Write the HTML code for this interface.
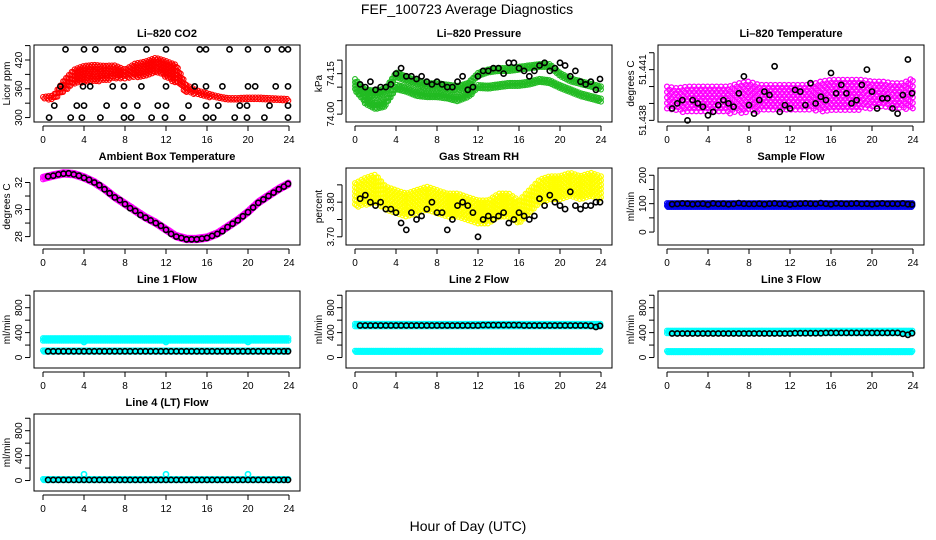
<!DOCTYPE html>
<html><head><meta charset="utf-8"><style>
html,body{margin:0;padding:0;background:#fff;}
svg{display:block;font-family:"Liberation Sans",sans-serif;}
</style></head><body>
<svg id="chart" width="936" height="540" viewBox="0 0 936 540" xmlns="http://www.w3.org/2000/svg">
<text x="467" y="14" font-size="14" text-anchor="middle">FEF_100723  Average Diagnostics</text>
<text x="468" y="531" font-size="14" text-anchor="middle">Hour of Day (UTC)</text>
</svg>
<script>
const xTicks = [0,4,8,12,16,20,24];
const blackHours = [0.5,1,1.5,2,2.5,3,3.5,4,4.5,5,5.5,6,6.5,7,7.5,8,8.5,9,9.5,10,10.5,11,11.5,12,12.5,13,13.5,14,14.5,15,15.5,16,16.5,17,17.5,18,18.5,19,19.5,20,20.5,21,21.5,22,22.5,23,23.5,23.9];

// CO2
const co2Center = [340,341,365,385,390,392,392,395,390,398,402,410,400,390,360,352,347,342,338,338,339,339,338,337,336];
const co2Spread = [3,5,12,15,18,18,16,14,10,15,15,15,18,20,8,5,4,3,3,3,3,3,3,3,3];
const co2BlackH = [2.2,4.0,5.1,7.3,7.8,10.1,12.0,15.3,15.9,18.2,20.0,21.9,23.3,23.9, 1.7,3.9,4.6,6.8,7.9,9.6,12.0,14.8,15.9,17.5,20.0,20.7,22.7,23.9, 1.1,3.3,4.0,6.2,7.9,9.2,11.2,12.0,14.2,15.9,17.1,19.2,19.9,22.1,23.9, 0.6,2.7,3.8,5.6,7.9,8.6,10.6,11.9,13.6,15.9,16.6,18.7,19.9,21.6,23.9];
const co2BlackV = [442,442,442,442,442,442,442,442,442,442,442,442,442,442, 365,365,365,365,365,365,365,365,365,365,365,365,365,365, 325,325,325,325,325,325,325,325,325,325,325,325,325,325,325, 300,300,300,300,300,300,300,300,300,300,300,300,300,300,300];

// Pressure (two bands)
const presLow = [74.095,74.05,74.03,74.04,74.10,74.09,74.075,74.07,74.07,74.065,74.055,74.07,74.10,74.10,74.105,74.11,74.11,74.115,74.125,74.12,74.10,74.085,74.07,74.06,74.05];
const presHigh = [74.12,74.08,74.075,74.085,74.145,74.13,74.115,74.105,74.105,74.10,74.095,74.105,74.145,74.16,74.165,74.165,74.17,74.175,74.18,74.18,74.145,74.125,74.115,74.105,74.095];
const presSpread = [0.01,0.012,0.012,0.012,0.01,0.01,0.01,0.01,0.01,0.01,0.01,0.01,0.008,0.006,0.006,0.006,0.006,0.006,0.006,0.006,0.008,0.008,0.008,0.008,0.008];
const presBlack = [74.11,74.10,74.12,74.09,74.10,74.10,74.11,74.15,74.17,74.14,74.14,74.13,74.14,74.12,74.11,74.12,74.11,74.10,74.10,74.12,74.14,74.09,74.10,74.14,74.16,74.16,74.17,74.17,74.15,74.19,74.19,74.17,74.16,74.14,74.16,74.18,74.19,74.16,74.17,74.19,74.18,74.14,74.16,74.12,74.11,74.12,74.09,74.13];

// Li-820 temperature
const tempCenter = [51.4393,51.4392,51.4392,51.4392,51.4392,51.4392,51.4392,51.4393,51.4394,51.4393,51.4393,51.4393,51.4393,51.4393,51.4393,51.4394,51.4395,51.4395,51.4395,51.4395,51.4395,51.4395,51.4394,51.4394,51.4396];
const tempSpread = [0.0007,0.0007,0.0008,0.0008,0.0008,0.0008,0.0008,0.0009,0.0009,0.0008,0.0008,0.0008,0.0008,0.0008,0.0008,0.0009,0.0009,0.0009,0.0009,0.0009,0.0008,0.0008,0.0008,0.0008,0.0009];
const tempBlack = [51.4387,51.4390,51.4392,51.4380,51.4392,51.4390,51.4388,51.4383,51.4385,51.4389,51.4392,51.4390,51.4388,51.4396,51.4406,51.4389,51.4384,51.4392,51.4397,51.4395,51.4412,51.4385,51.4389,51.4387,51.4398,51.4397,51.4389,51.4402,51.4390,51.4394,51.4392,51.4408,51.4396,51.4401,51.4396,51.4390,51.4392,51.4401,51.4410,51.4397,51.4387,51.4393,51.4393,51.4387,51.4384,51.4395,51.4416,51.4396];

// Ambient box temperature
const ambCenter = [32.3,32.5,32.65,32.6,32.35,32.0,31.5,30.9,30.4,29.9,29.4,29.0,28.5,28.0,27.8,27.8,27.9,28.2,28.7,29.2,29.8,30.5,31.0,31.5,31.9];
const ambSpread = [0.12,0.12,0.12,0.12,0.12,0.12,0.12,0.12,0.12,0.12,0.12,0.12,0.12,0.12,0.12,0.12,0.12,0.12,0.12,0.12,0.12,0.12,0.12,0.12,0.12];
const ambBlack = [32.45,32.5,32.6,32.65,32.68,32.6,32.5,32.35,32.2,32.0,31.8,31.5,31.2,30.9,30.7,30.4,30.1,29.9,29.6,29.4,29.2,29.0,28.8,28.5,28.2,28.0,27.9,27.8,27.8,27.8,27.85,27.9,28.05,28.2,28.4,28.7,28.95,29.2,29.5,29.8,30.15,30.5,30.75,31.0,31.25,31.5,31.7,31.9];

// Gas stream RH
const rhCenter = [3.82,3.83,3.84,3.81,3.80,3.79,3.80,3.81,3.80,3.79,3.79,3.78,3.77,3.77,3.79,3.79,3.77,3.80,3.83,3.84,3.84,3.85,3.84,3.85,3.84];
const rhSpread = [0.035,0.04,0.04,0.035,0.035,0.035,0.035,0.035,0.035,0.035,0.035,0.035,0.035,0.035,0.035,0.035,0.035,0.035,0.035,0.035,0.035,0.035,0.035,0.035,0.035];
const rhBlack = [3.81,3.82,3.80,3.79,3.80,3.78,3.78,3.77,3.74,3.72,3.77,3.75,3.76,3.78,3.80,3.77,3.77,3.72,3.75,3.79,3.80,3.79,3.77,3.70,3.75,3.76,3.75,3.76,3.77,3.74,3.75,3.77,3.76,3.75,3.76,3.81,3.79,3.82,3.80,3.79,3.78,3.83,3.79,3.78,3.79,3.79,3.80,3.80];

// Sample flow
const sampCenter = [95,95,95,95,95,95,95,95];
const sampSpread = [7,7,7,7,7,7,7,7];
const sampBlack = [98,99,101,100,98,99,100,97,101,99,100,98,99,102,100,99,99,100,98,100,101,99,100,97,99,100,101,100,99,102,100,98,101,100,99,100,101,99,100,98,100,101,99,100,99,101,98,97];

// Line flows
const l1High = [290,290,290,290,290]; const l1Low = [100,100,100,100,100];
const l2High = [520,520,520,520,520]; const l2Low = [95,95,95,95,95];
const l3High = [410,410,410,410,410]; const l3Low = [90,90,90,90,90];
const l4Band = [10,10,10,10,10];
const flowSpreadHigh = [22,22,22,22,22];
const flowSpreadLow = [14,14,14,14,14];
const l1Black = [100,100,100,100,100,100,100,100,100,100,100,100,100,100,100,100,100,100,100,100,100,100,100,100,100,100,100,100,100,100,100,100,100,100,100,100,100,100,100,100,100,100,100,100,100,100,100,100];
const l2Black = [515,515,515,515,515,515,515,515,515,515,515,515,515,515,515,515,515,515,515,515,515,515,515,515,520,520,520,520,520,520,520,520,515,515,515,515,515,515,515,515,515,515,515,515,515,510,490,510];
const l3Black = [385,385,385,385,385,385,385,385,385,385,385,385,385,385,385,385,385,385,385,385,385,385,385,385,390,390,390,390,390,390,395,395,395,395,395,395,395,395,395,395,395,395,395,395,395,380,365,390];
const l4Black = [10,10,10,10,10,10,10,10,10,10,10,10,10,10,10,10,10,10,10,10,10,10,10,10,10,10,10,10,10,10,10,10,10,10,10,10,10,10,10,10,10,10,10,10,10,10,10,10];
const outlierHours = [4,12,20];
const l1Outliers = [250,250,250];
const l4Outliers = [100,100,100];

const NS = "http://www.w3.org/2000/svg";
const svg = document.getElementById('chart');
function el(tag, attrs, parent){ const e=document.createElementNS(NS,tag); for(const k in attrs) e.setAttribute(k,attrs[k]); (parent||svg).appendChild(e); return e; }

function panel(slug, title, col, row, ymin, ymax, ticks, labels, ytitle){
  const L = 34 + 312*col, T = 45 + 123*row, W = 266, H = 77;
  const g = el('g', {});
  
  
  const x = h => L + 9 + h*(246/24);
  const y = v => T + H - 3 - (v - ymin)/(ymax - ymin)*(H - 6);
  const t = el('text',{x:L+W/2,y:T-8,'font-size':11,'font-weight':'bold','text-anchor':'middle'},g);
  t.textContent = title;
  
  
  const yt = el('text',{x:0,y:0,'font-size':10,'text-anchor':'middle',transform:`translate(${L-24},${T+H/2}) rotate(-90)`},g);
  yt.textContent = ytitle;
  
  
  const xa = el('g',{},g);
  
  
  el('line',{x1:x(0),x2:x(24),y1:T+H+4,y2:T+H+4,stroke:'#000','stroke-width':1},xa);
  xTicks.forEach(h=>{
    el('line',{x1:x(h),x2:x(h),y1:T+H+4,y2:T+H+9,stroke:'#000','stroke-width':1},xa);
    const lb = el('text',{x:x(h),y:T+H+21,'font-size':10,'text-anchor':'middle'},xa);
    lb.textContent = h;
    
    
  });
  const ya = el('g',{},g);
  
  
  el('line',{x1:L-4,x2:L-4,y1:y(ticks[0]),y2:y(ticks[ticks.length-1]),stroke:'#000','stroke-width':1},ya);
  ticks.forEach(v=>{ el('line',{x1:L-9,x2:L-4,y1:y(v),y2:y(v),stroke:'#000','stroke-width':1},ya); });
  labels.forEach(v=>{
    const lb = el('text',{x:0,y:0,'font-size':10,'text-anchor':'middle',transform:`translate(${L-12},${y(v)}) rotate(-90)`},ya);
    lb.textContent = v;
    
    
  });
  const box = el('rect',{x:L,y:T,width:W,height:H,fill:'none',stroke:'#000','stroke-width':1},g);
  
  
  return {g,x,y,L,T,W,H};
}

function band(p, centers, spreads, color, name, xs, ys, sw){
  xs = xs || 0.09; ys = ys || 2.6;
  const bg = el('g',{fill:'none',stroke:color,'stroke-width':sw||1.2},p.g);
  
  
  const n = centers.length, step = 24/(n-1);
  let k = 0;
  for(let h=0; h<=24.001; h+=xs){
    const i = Math.min(n-2, Math.floor(h/step)), f = h/step - i;
    const c = centers[i]*(1-f)+centers[i+1]*f;
    const s = spreads[Math.min(i, spreads.length-1)]*(1-f)+spreads[Math.min(i+1, spreads.length-1)]*f;
    const y1 = p.y(c+s), y2 = p.y(c-s);
    const off = (k++ % 2) * ys/2;
    for(let yy=y1+off; yy<=y2+0.01; yy+=ys){
      el('circle',{cx:p.x(h).toFixed(1),cy:yy.toFixed(1),r:2.4},bg);
    }
  }
}

function points(p, hours, vals, color, name, r){
  const pg = el('g',{fill:'none',stroke:color,'stroke-width':1.6},p.g);
  
  
  hours.forEach((h,i)=>{
    const c = el('circle',{cx:p.x(h).toFixed(1),cy:p.y(vals[i]).toFixed(1),r:r||2.6},pg);
    
    
  });
}

// Row 1
let p = panel('co2','Li\u2013820 CO2',0,0,297,445,[300,330,360,390,420,450],[300,360,420],'Licor ppm');
band(p, co2Center, co2Spread, '#ff0000', 'co2-series', 0.14, 3.6, 1.1);
points(p, co2BlackH, co2BlackV, '#000', 'co2-average-points');

p = panel('pressure','Li\u2013820 Pressure',1,0,73.982,74.245,[74.00,74.05,74.10,74.15,74.20],['74.00','74.15'],'kPa');
band(p, presLow, presSpread, '#22bb22', 'pressure-series-low', 0.12, 3.2, 1.1);
band(p, presHigh, presSpread, '#22bb22', 'pressure-series-high', 0.12, 3.2, 1.1);
points(p, blackHours, presBlack, '#000', 'pressure-average-points');

p = panel('li820-temp','Li\u2013820 Temperature',2,0,51.43808,51.44228,[51.438,51.439,51.440,51.441,51.442],['51.438','51.441'],'degrees C');
band(p, tempCenter, tempSpread, '#ff00ff', 'li820-temp-series', 0.22, 5.5, 1.3);
points(p, blackHours, tempBlack, '#000', 'li820-temp-average-points');

// Row 2
p = panel('ambient','Ambient Box Temperature',0,1,27.6,32.85,[28,29,30,31,32],[28,30,32],'degrees C');
band(p, ambCenter, ambSpread, '#ff00ff', 'ambient-series');
points(p, blackHours, ambBlack, '#000', 'ambient-average-points');

p = panel('rh','Gas Stream RH',1,1,3.685,3.89,[3.70,3.75,3.80,3.85],['3.70','3.80'],'percent');
band(p, rhCenter, rhSpread, '#ffff00', 'rh-series', 0.16, 4.2, 1.2);
points(p, blackHours, rhBlack, '#000', 'rh-average-points');

p = panel('sample-flow','Sample Flow',2,1,-35,215,[0,50,100,150,200],[0,100,200],'ml/min');
band(p, sampCenter, sampSpread, '#0000ee', 'sample-flow-series');
points(p, blackHours, sampBlack, '#000', 'sample-flow-average-points');

// Row 3
p = panel('line1-flow','Line 1 Flow',0,2,-120,1020,[0,200,400,600,800,1000],[0,400,800],'ml/min');
band(p, l1High, flowSpreadHigh, '#00ffff', 'line1-series-high');
band(p, l1Low, flowSpreadLow, '#00ffff', 'line1-series-low');
points(p, outlierHours, l1Outliers, '#00ffff', 'line1-outliers');
points(p, blackHours, l1Black, '#000', 'line1-average-points');

p = panel('line2-flow','Line 2 Flow',1,2,-120,1020,[0,200,400,600,800,1000],[0,400,800],'ml/min');
band(p, l2High, flowSpreadHigh, '#00ffff', 'line2-series-high');
band(p, l2Low, flowSpreadLow, '#00ffff', 'line2-series-low');
points(p, blackHours, l2Black, '#000', 'line2-average-points');

p = panel('line3-flow','Line 3 Flow',2,2,-120,1020,[0,200,400,600,800,1000],[0,400,800],'ml/min');
band(p, l3High, flowSpreadHigh, '#00ffff', 'line3-series-high');
band(p, l3Low, flowSpreadLow, '#00ffff', 'line3-series-low');
points(p, blackHours, l3Black, '#000', 'line3-average-points');

// Row 4
p = panel('line4-flow','Line 4 (LT) Flow',0,3,-120,1020,[0,200,400,600,800,1000],[0,400,800],'ml/min');
band(p, l4Band, flowSpreadLow, '#00ffff', 'line4-series');
points(p, outlierHours, l4Outliers, '#00ffff', 'line4-outliers');
points(p, blackHours, l4Black, '#000', 'line4-average-points');
</script>
</body></html>
